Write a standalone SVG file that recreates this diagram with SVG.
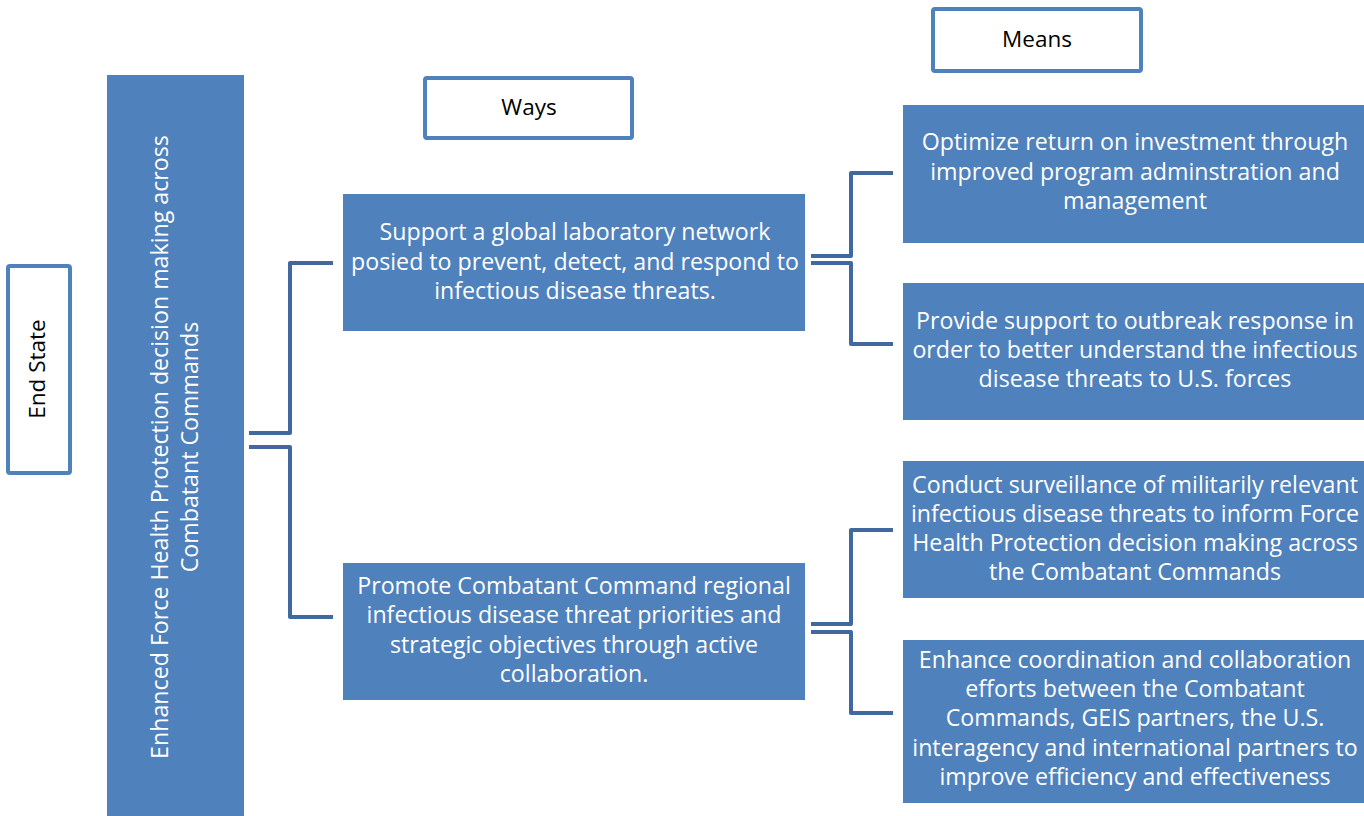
<svg xmlns="http://www.w3.org/2000/svg" width="1364" height="816" viewBox="0 0 1364 816">
<style>
.box{fill:#4F81BD;}
.hdr{fill:#FFFFFF;stroke:#4F81BD;stroke-width:4;}
.wt{font-family:"Open Sans","Noto Sans",sans-serif;font-size:23.2px;fill:#FFFFFF;text-anchor:middle;}
.bt{font-family:"Open Sans","Noto Sans",sans-serif;font-size:22.5px;fill:#000000;text-anchor:middle;}
.con{fill:none;stroke:#41699F;stroke-width:4;stroke-linejoin:round;}
</style>
<rect width="1364" height="816" fill="#FFFFFF"/>
<g id="end-state">
<rect class="hdr" x="8" y="266" width="62" height="207" rx="2"/>
<text class="bt" transform="translate(45,369) rotate(-90)">End State</text>
</g>
<g id="end-state-value">
<rect class="box" x="107" y="75" width="137" height="741"/>
<text class="wt" transform="translate(168,447) rotate(-90)">Enhanced Force Health Protection decision making across</text>
<text class="wt" transform="translate(198,447) rotate(-90)">Combatant Commands</text>
</g>
<g id="ways-header">
<rect class="hdr" x="425" y="78" width="207" height="60" rx="2"/>
<text class="bt" x="529" y="115">Ways</text>
</g>
<g id="means-header">
<rect class="hdr" x="933" y="9" width="208" height="62" rx="2"/>
<text class="bt" x="1037" y="47">Means</text>
</g>
<g id="way1">
<rect class="box" x="343" y="194" width="462" height="137"/>
<text class="wt" x="575" y="240">Support a global laboratory network</text>
<text class="wt" x="575" y="270">posied to prevent, detect, and respond to</text>
<text class="wt" x="575" y="299">infectious disease threats.</text>
</g>
<g id="way2">
<rect class="box" x="343" y="563" width="462" height="137"/>
<text class="wt" x="574" y="594">Promote Combatant Command regional</text>
<text class="wt" x="574" y="623">infectious disease threat priorities and</text>
<text class="wt" x="574" y="653">strategic objectives through active</text>
<text class="wt" x="574" y="682">collaboration.</text>
</g>
<g id="means1">
<rect class="box" x="903" y="105" width="461" height="138"/>
<text class="wt" x="1135" y="150">Optimize return on investment through</text>
<text class="wt" x="1135" y="180">improved program adminstration and</text>
<text class="wt" x="1135" y="209">management</text>
</g>
<g id="means2">
<rect class="box" x="903" y="283" width="461" height="137"/>
<text class="wt" x="1135" y="329">Provide support to outbreak response in</text>
<text class="wt" x="1135" y="358">order to better understand the infectious</text>
<text class="wt" x="1135" y="387">disease threats to U.S. forces</text>
</g>
<g id="means3">
<rect class="box" x="903" y="461" width="461" height="137"/>
<text class="wt" x="1135" y="493">Conduct surveillance of militarily relevant</text>
<text class="wt" x="1135" y="522">infectious disease threats to inform Force</text>
<text class="wt" x="1135" y="551">Health Protection decision making across</text>
<text class="wt" x="1135" y="580">the Combatant Commands</text>
</g>
<g id="means4">
<rect class="box" x="903" y="640" width="461" height="163"/>
<text class="wt" x="1135" y="668">Enhance coordination and collaboration</text>
<text class="wt" x="1135" y="697">efforts between the Combatant</text>
<text class="wt" x="1135" y="726">Commands, GEIS partners, the U.S.</text>
<text class="wt" x="1135" y="756">interagency and international partners to</text>
<text class="wt" x="1135" y="785">improve efficiency and effectiveness</text>
</g>
<g id="connectors">
<path class="con" d="M249,433 H290 V263 H333"/>
<path class="con" d="M249,447 H290 V617 H333"/>
<path class="con" d="M811,256 H851 V173 H893"/>
<path class="con" d="M811,263 H851 V344 H893"/>
<path class="con" d="M811,624 H851 V530 H893"/>
<path class="con" d="M811,632 H851 V713 H893"/>
</g>
</svg>
